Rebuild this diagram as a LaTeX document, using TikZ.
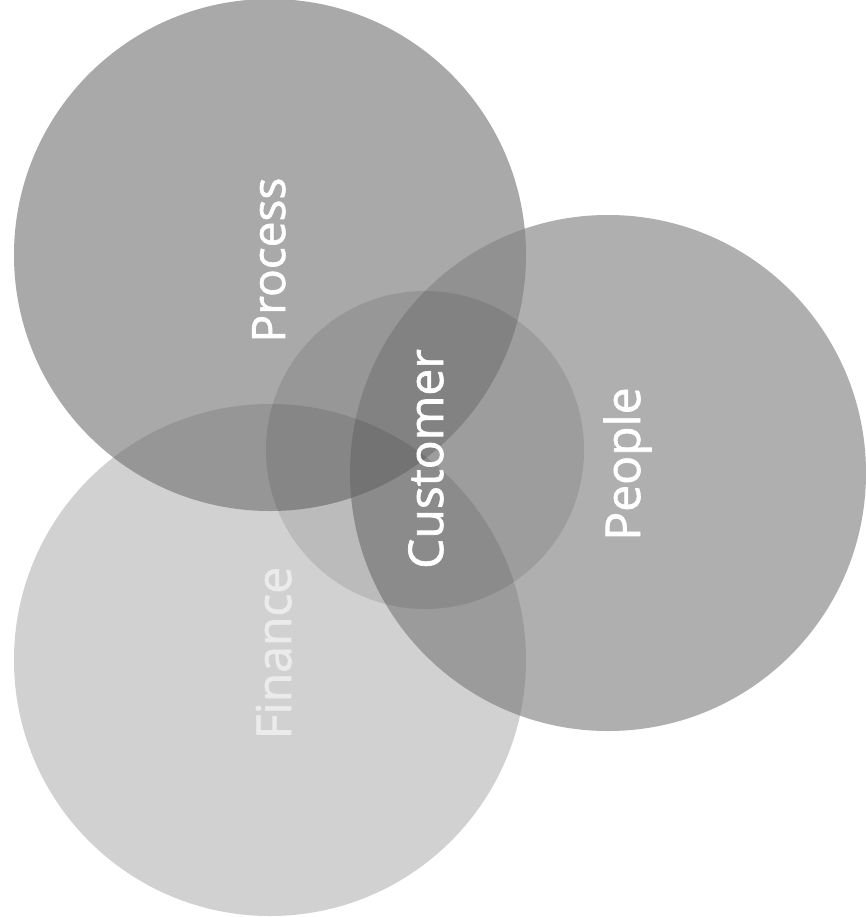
\documentclass[tikz,border=0pt]{standalone}
\usepackage{fontspec}
\setmainfont{Open Sans}
\newfontfamily\lblfont[FakeBold=1.4]{Open Sans}
\begin{document}
\begin{tikzpicture}[x=1pt,y=-1pt,
  disc/.style={circle, inner sep=0pt, draw=none},
  lbl/.style={text=white, rotate=90, anchor=base, inner sep=0pt}]
\useasboundingbox (0,0) rectangle (866,917);
% base tones (darken: overlaps take the darker tone)
\begin{scope}[blend mode=darken]
\node[disc, fill=black!22, minimum size=512pt] (process) at (270,255) {};
\node[disc, fill=black!20, minimum size=516pt] (people) at (608,473) {};
\node[disc, fill=black!8, minimum size=512pt] (finance) at (270,660) {};
\end{scope}
% shading layers (multiply: overlaps get darker)
\begin{scope}[blend mode=multiply]
\node[disc, fill=black!15, minimum size=512pt] (processm) at (process.center) {};
\node[disc, fill=black!14, minimum size=516pt] (peoplem) at (people.center) {};
\node[disc, fill=black!11, minimum size=512pt] (financem) at (finance.center) {};
\node[disc, fill=black!10, minimum size=318pt] (customer) at (425,450) {};
\end{scope}
\node[lbl, font=\lblfont\fontsize{46}{50}\selectfont] (tprocess) at (285,260) {Process};
\node[lbl, font=\lblfont\fontsize{48}{52}\selectfont] (tcustomer) at (443,459) {Customer};
\node[lbl, font=\lblfont\fontsize{48}{52}\selectfont] (tpeople) at (640,464) {People};
\node[lbl, font=\lblfont\fontsize{48}{52}\selectfont, text=white!92!black] (tfinance) at (291,653) {Finance};
\end{tikzpicture}
\end{document}
